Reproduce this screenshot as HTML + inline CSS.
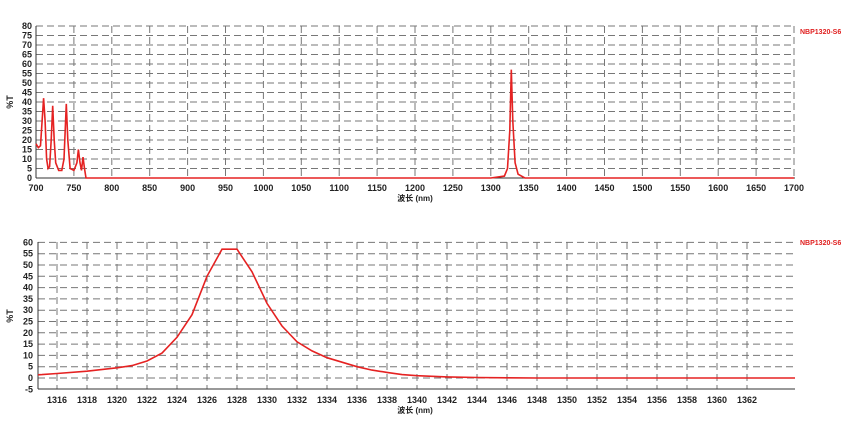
<!DOCTYPE html>
<html><head><meta charset="utf-8"><style>
body{margin:0;background:#fff;}
svg text{font-family:"Liberation Sans","Noto Sans CJK SC",sans-serif;font-weight:bold;}
</style></head><body>
<svg id="s" width="867" height="416" xmlns="http://www.w3.org/2000/svg"></svg>
<script>
const s=document.getElementById('s');let h='';
function L(x1,y1,x2,y2,st){h+=`<line x1="${x1}" y1="${y1}" x2="${x2}" y2="${y2}" ${st}/>`;}
function T(x,y,t,a,sz,c){h+=`<text x="${x}" y="${y}" font-size="${sz||9}" text-anchor="${a||'middle'}" fill="${c||'#222'}">${t}</text>`;}
const dash='stroke="#777" stroke-width="1" stroke-dasharray="7,4"';
// top chart
let X1=w=>36+(w-700)*0.758, Y1=v=>178-v*1.9;
for(let v=5;v<=80;v+=5)L(36,Y1(v),795,Y1(v),dash);
for(let w=750;w<=1700;w+=50)L(X1(w),26,X1(w),178,dash);
for(let v=0;v<=80;v+=5)T(32,Y1(v)+3,v,'end',9);
for(let w=700;w<=1700;w+=50)T(X1(w),191,w,'middle',9);
L(36,26,36,178,'stroke="#333"');L(36,178,795,178,'stroke="#333"');
T(415,201,'波长 (nm)','middle',8);
h+=`<text x="13" y="102" font-size="9" text-anchor="middle" fill="#222" transform="rotate(-90 13 102)">%T</text>`;
T(800,34,'NBP1320-S6','start',7,'#e02020');
h+=`<polyline fill="none" stroke="#e52222" stroke-width="1.6" points="36,143.8 38.3,147.6 40.5,145.7 42.1,121 43.6,98.2 45.1,121 46.6,159 48.1,168.5 49.6,166.6 51.2,140 52.7,105.8 54.2,140 55.7,162.8 58.7,170.4 61.8,170.4 64,159 66.3,103.9 67.8,140 70.1,168.5 73.9,170.4 76.9,162.8 78.4,149.5 80,162.8 81.5,170.4 83,157.1 84.5,168.5 86,178 490.8,178 504.4,176.1 507.5,168.5 509.8,130.5 511.3,69.7 512.8,121 515.1,162.8 518.1,174.2 524.9,178 794,178"/>`;
// bottom
let X2=w=>42+(w-1315)*15, Y2=v=>378-v*2.26;
for(let v=-5;v<=60;v+=5){if(v!=-5)L(38,Y2(v),795,Y2(v),dash);T(33,Y2(v)+3,v,'end',9);}
for(let w=1316;w<=1362;w+=2){L(X2(w),242,X2(w),389,dash);T(X2(w),403,w,'middle',9);}
L(38,242,38,389,'stroke="#333"');L(38,389,795,389,'stroke="#333"');
T(415,413,'波长 (nm)','middle',8);
h+=`<text x="13" y="316" font-size="9" text-anchor="middle" fill="#222" transform="rotate(-90 13 316)">%T</text>`;
T(800,245,'NBP1320-S6','start',7,'#e02020');
h+=`<polyline fill="none" stroke="#e52222" stroke-width="1.6" points="38,374.8 42,374.6 57,373.5 87,371.2 117,367.8 132,365.6 147,361 162,353.1 177,337.3 192,314.7 207,276.3 222,249.2 237,249.2 252,271.8 267,303.4 282,326 297,341.8 312,350.9 327,357.7 342,362.2 357,366.7 372,370.1 387,372.4 402,374.6 417,375.7 447,376.9 477,377.5 507,377.8 537,378 795,378"/>`;
s.innerHTML=h;
</script>
</body></html>
